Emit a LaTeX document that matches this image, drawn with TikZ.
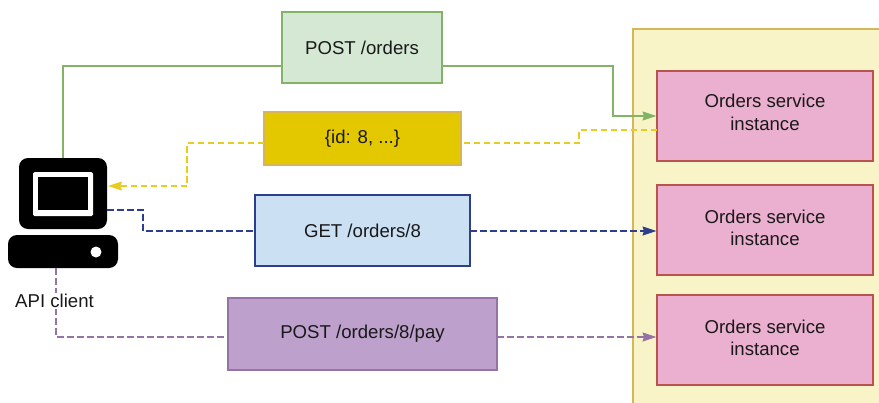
\documentclass[tikz,border=0pt]{standalone}
\usepackage{fontspec}
\setmainfont{Liberation Sans}
\usetikzlibrary{arrows.meta,calc}
\definecolor{grn}{HTML}{82B366}
\definecolor{grnf}{HTML}{D5E8D4}
\definecolor{yel}{HTML}{E8CC1E}
\definecolor{yelf}{HTML}{E3C800}
\definecolor{yels}{HTML}{D6B656}
\definecolor{blu}{HTML}{2C3E8C}
\definecolor{bluf}{HTML}{CBE0F2}
\definecolor{pur}{HTML}{9673A6}
\definecolor{purf}{HTML}{BDA0CB}
\definecolor{pnk}{HTML}{EBB0D0}
\definecolor{pnks}{HTML}{B85450}
\definecolor{cont}{HTML}{F8F4C8}
\tikzset{
  x=1pt,y=-1pt,
  txt/.style={font=\fontsize{18.6}{22.5}\selectfont,text=black!90},
  box/.style={txt,draw,line width=1.1pt,inner sep=0pt,align=center},
  inst/.style={draw=pnks,fill=pnk,line width=1.1pt,inner sep=0pt,minimum width=216pt,minimum height=90pt},
  instlabel/.style={txt,align=center},
  conn/.style={line width=1.2pt,line join=miter},
  dashline/.style={conn,dash pattern=on 6.5pt off 3.5pt},
  head/.style={-{Stealth[length=14pt,width=9pt,inset=1.5pt]},shorten >=0.5pt},
}
\begin{document}
\begin{tikzpicture}
\useasboundingbox (0,0) rectangle (879,402);
\clip (0,0) rectangle (879,402);
% container
\fill[cont] (633,29) rectangle (890,410);
\draw[yels,line width=1.1pt] (633,410) -- (633,29) -- (890,29);
% instances
\node[inst,label={[instlabel,yshift=3.5pt]center:Orders service\\instance}] (o1) at (765,116) {};
\node[inst,label={[instlabel,yshift=2pt]center:Orders service\\instance}] (o2) at (765,230) {};
\node[inst,label={[instlabel,yshift=2pt]center:Orders service\\instance}] (o3) at (765,340) {};
% requests
\node[box,draw=grn,fill=grnf,minimum width=160pt,minimum height=71pt] (post) at (362,47.5) {POST /orders};
\node[box,draw=yels,fill=yelf,minimum width=197pt,minimum height=53pt] (id) at (362.5,138.5) {\{id: 8, ...\}};
\node[box,draw=blu,fill=bluf,minimum width=215pt,minimum height=71pt] (get) at (362.5,230.5) {GET /orders/8};
\node[box,draw=pur,fill=purf,minimum width=269pt,minimum height=72pt] (pay) at (362.5,334) {POST /orders/8/pay};
% computer
\node[fill=black,rounded corners=9pt,minimum width=88pt,minimum height=71pt,inner sep=0pt] (mon) at (63,193.5) {};
\node[fill=white,rounded corners=1.5pt,minimum width=60pt,minimum height=44pt,inner sep=0pt] (bezel) at (63,194) {};
\node[fill=black,minimum width=50pt,minimum height=33pt,inner sep=0pt] (screen) at (63,193.5) {};
\node[fill=black,rounded corners=9pt,minimum width=110pt,minimum height=33pt,inner sep=0pt] (base) at (63,251.5) {};
\node[fill=white,circle,minimum size=11pt,inner sep=0pt] (led) at (96,252) {};
% connector anchor points
\coordinate (payout) at (56,268);
\coordinate (getout) at (107,210);
\coordinate (idin) at (107.5,186);
\coordinate (postin) at (282,66);
\coordinate (postout) at (442,66);
\coordinate (o1in) at (657,116);
\coordinate (o1out) at (657,130);
\coordinate (idout) at (461,143);
\coordinate (idleft) at (264,143);
\coordinate (getleft) at (255,231);
\coordinate (getright) at (470,231);
\coordinate (o2in) at (657,231);
\coordinate (payleft) at (228,337);
\coordinate (payright) at (497,337);
\coordinate (o3in) at (657,337);
% connectors
\draw[conn,grn] (mon.north) |- (postin);
\draw[conn,grn,head] (postout) -- (613,66) -- (613,116) -- (o1in);
\draw[dashline,yel] (o1out) -- (579,130) -- (579,143) -- (idout);
\draw[dashline,yel,head] (idleft) -- (187,143) -- (187,186) -- (idin);
\draw[dashline,blu] (getout) -- (143,210) -- (143,231) -- (getleft);
\draw[dashline,blu,head] (getright) -- (o2in);
\draw[dashline,pur] (payout) |- (payleft);
\draw[dashline,pur,head] (payright) -- (o3in);
% label
\node[fill=white,inner xsep=0pt,inner ysep=1pt,font=\fontsize{18.6}{22.5}\selectfont,text=black!90] (client) at (54.5,301) {API client};
\end{tikzpicture}
\end{document}
